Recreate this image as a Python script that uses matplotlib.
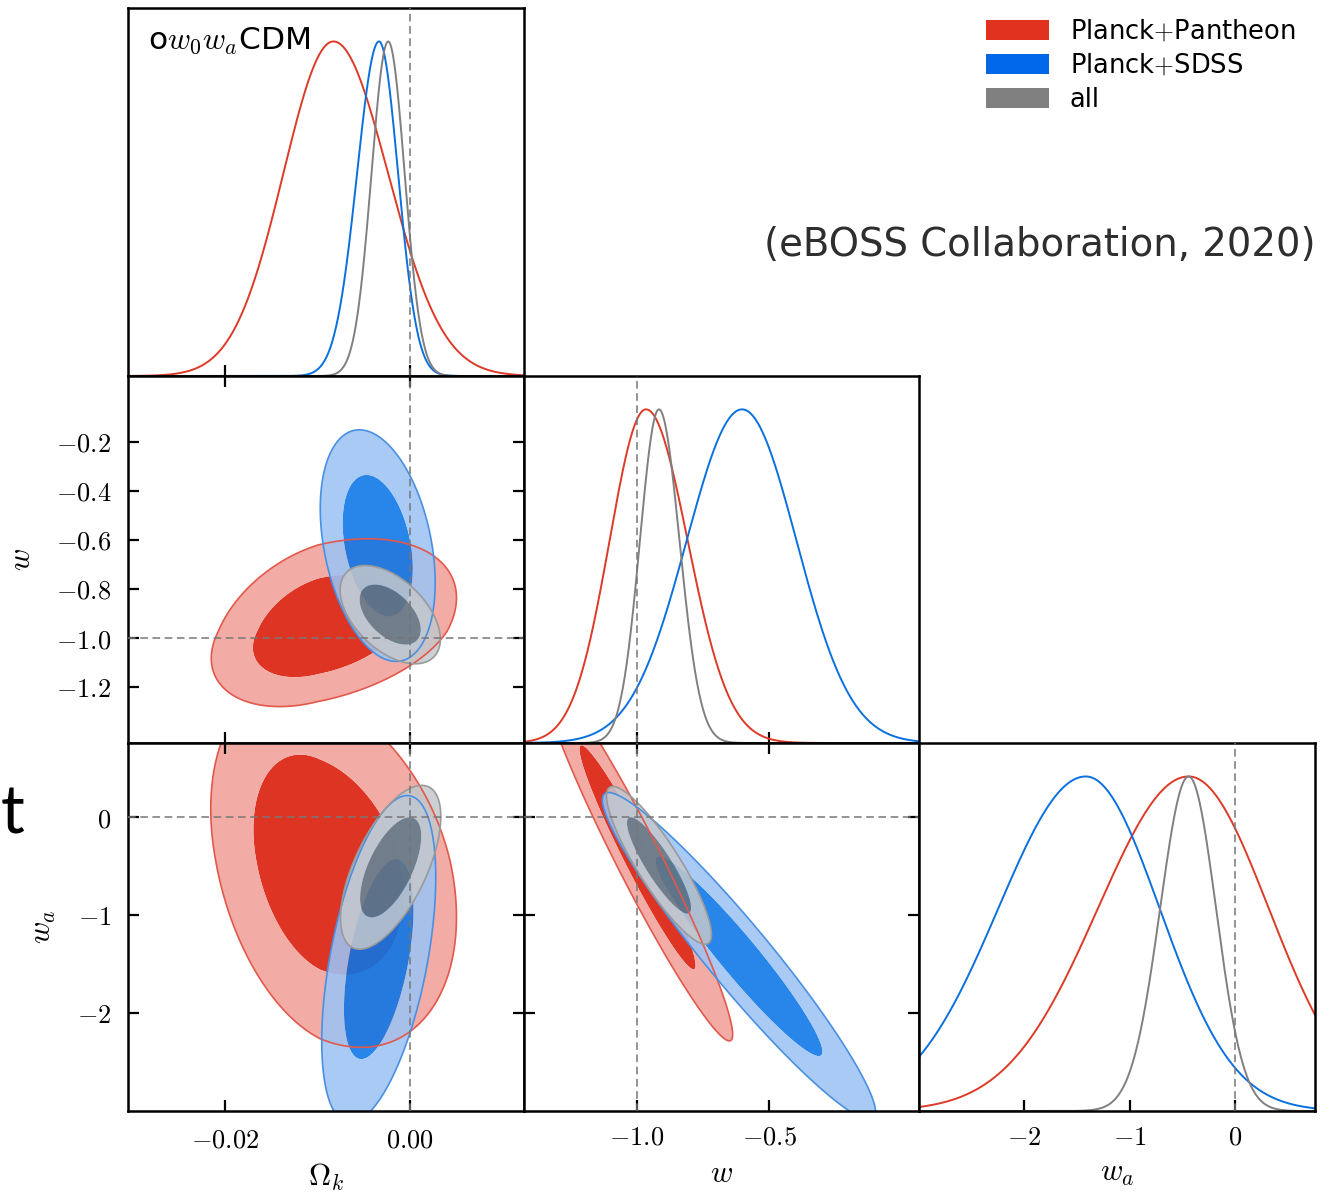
#!/usr/bin/python3
# triangle plot for the o w0 wa CDM fit: Omega_k, w, w_a

import numpy as np
import matplotlib
matplotlib.use('Agg')
from matplotlib import pyplot as plt
from matplotlib.patches import Patch

plt.rcParams['mathtext.fontset'] = 'cm'
plt.rcParams['font.family'] = ['DejaVu Sans']

##########################################
# data sets
labels = ['Planck$+$Pantheon', 'Planck$+$SDSS', 'all']
line_colors = ['#dd3a27', '#0a70e0', '#808080']
legend_colors = ['#e0321f', '#0068e8', '#808080']
inner_colors = ['#de3424', '#0a74e6', '#68747c']
outer_colors = ['#f2aca5', '#9cc3f4', '#c4c8cc']
edge_colors = ['#e2584c', '#4a90e2', '#9a9a9a']
fill_alpha = [1.0, 0.88, 0.85]

# 1D marginals: peak, width below peak, width above peak
ok_peak = [-0.0083, -0.00337, -0.00238]
ok_sig_lo = [0.0054, 0.00237, 0.0018]
ok_sig_hi = [0.0059, 0.00206, 0.00178]

w_peak = [-0.966, -0.602, -0.917]
w_sig_lo = [0.138, 0.21, 0.072]
w_sig_hi = [0.158, 0.206, 0.078]

wa_peak = [-0.44, -1.416, -0.44]
wa_sig_lo = [0.86, 0.83, 0.27]
wa_sig_hi = [0.76, 0.70, 0.26]

# 2D posteriors: centre, widths (x below, x above, y below, y above), correlation
okw_centre = [(-0.00995, -0.9717), (-0.00351, -0.6234), (-0.00216, -0.9048)]
okw_sig = [(0.00465, 0.00602, 0.1239, 0.1514), (0.0025, 0.0025, 0.19, 0.19),
           (0.00218, 0.00218, 0.0806, 0.0806)]
okw_rho = [0.36, -0.32, -0.5]

okwa_centre = [(-0.00973, -0.449), (-0.0034, -1.449), (-0.00211, -0.51)]
okwa_sig = [(0.00476, 0.00593, 0.765, 0.719), (0.00248, 0.00248, 0.673, 0.673),
            (0.00218, 0.00218, 0.337, 0.337)]
okwa_rho = [-0.3, 0.5, 0.62]

wwa_centre = [(-0.998, -0.408), (-0.6136, -1.418), (-0.9167, -0.49)]
wwa_sig = [(0.145, 0.145, 0.755, 0.755), (0.2083, 0.2083, 0.673, 0.673),
           (0.080, 0.080, 0.3245, 0.3245)]
wwa_rho = [-0.965, -0.955, -0.88]

ok_lim = (-0.0305, 0.0123)
w_lim = (-1.428, 0.068)
wa_lim = (-3.0, 0.76)

ok_ticks = [-0.02, 0.0]
ok_ticklabels = ['$-0.02$', '$0.00$']
w_xticks = [-1.0, -0.5]
w_xticklabels = ['$-1.0$', '$-0.5$']
w_yticks = [-0.2, -0.4, -0.6, -0.8, -1.0, -1.2]
w_yticklabels = ['$-0.2$', '$-0.4$', '$-0.6$', '$-0.8$', '$-1.0$', '$-1.2$']
wa_ticks = [-2, -1, 0]
wa_ticklabels = ['$-2$', '$-1$', '$0$']

# 68% and 95% levels of a 2D gaussian
levels = [0.0, 2.30, 6.17]

W, H = 1333, 1195
TICK = 19
LABEL = 22


##########################################
def box(x0, y0, x1, y1):
    return [x0 / W, 1 - y1 / H, (x1 - x0) / W, (y1 - y0) / H]


def split_gauss(x, mu, slo, shi):
    s = np.where(x < mu, slo, shi)
    return np.exp(-0.5 * ((x - mu) / s) ** 2)


def chi2(X, Y, centre, sig, rho):
    x0, y0 = centre
    sxl, sxh, syl, syh = sig
    u = np.where(X < x0, (X - x0) / sxl, (X - x0) / sxh)
    v = np.where(Y < y0, (Y - y0) / syl, (Y - y0) / syh)
    return (u * u - 2 * rho * u * v + v * v) / (1 - rho * rho)


def style(ax, two_d=True):
    for s in ax.spines.values():
        s.set_linewidth(1.8)
    ax.tick_params(direction='in', length=8, width=1.6, labelsize=TICK,
                   top=two_d, right=two_d, left=two_d, bottom=True,
                   labelbottom=False, labelleft=False, pad=10)


def plot1d(ax, lim, peak, slo, shi):
    x = np.linspace(lim[0], lim[1], 800)
    for i in range(len(labels)):
        ax.plot(x, split_gauss(x, peak[i], slo[i], shi[i]), color=line_colors[i], lw=1.4)
    ax.set_xlim(lim)
    ax.set_ylim(0, 1.1)
    ax.set_yticks([])
    style(ax, two_d=False)


def plot2d(ax, xlim, ylim, centre, sig, rho):
    X, Y = np.meshgrid(np.linspace(xlim[0], xlim[1], 700), np.linspace(ylim[0], ylim[1], 700))
    for i in range(len(labels)):
        q = chi2(X, Y, centre[i], sig[i], rho[i])
        ax.contourf(X, Y, q, levels=levels, colors=[inner_colors[i], outer_colors[i]],
                    alpha=fill_alpha[i], antialiased=True)
        ax.contour(X, Y, q, levels=[levels[2]], colors=[edge_colors[i]], linewidths=1.2)
    ax.set_xlim(xlim)
    ax.set_ylim(ylim)
    style(ax)


def ref_lines(ax, x=None, y=None):
    if x is not None:
        ax.axvline(x, color='#777777', lw=1.1, ls=(0, (5, 3)), zorder=5)
    if y is not None:
        ax.axhline(y, color='#777777', lw=1.1, ls=(0, (5, 3)), zorder=5)


##########################################
def main():
    fig = plt.figure(figsize=(W / 100, H / 100), dpi=100)

    ax_ok = fig.add_axes(box(128, 8, 524, 376))
    ax_okw = fig.add_axes(box(128, 376, 524, 743))
    ax_okwa = fig.add_axes(box(128, 743, 524, 1111))
    ax_w = fig.add_axes(box(524, 376, 919, 743))
    ax_wwa = fig.add_axes(box(524, 743, 919, 1111))
    ax_wa = fig.add_axes(box(919, 743, 1315, 1111))

    # diagonal
    plot1d(ax_ok, ok_lim, ok_peak, ok_sig_lo, ok_sig_hi)
    plot1d(ax_w, w_lim, w_peak, w_sig_lo, w_sig_hi)
    plot1d(ax_wa, wa_lim, wa_peak, wa_sig_lo, wa_sig_hi)
    ref_lines(ax_ok, x=0.0)
    ref_lines(ax_w, x=-1.0)
    ref_lines(ax_wa, x=0.0)

    # off-diagonal
    plot2d(ax_okw, ok_lim, w_lim, okw_centre, okw_sig, okw_rho)
    plot2d(ax_okwa, ok_lim, wa_lim, okwa_centre, okwa_sig, okwa_rho)
    plot2d(ax_wwa, w_lim, wa_lim, wwa_centre, wwa_sig, wwa_rho)
    ref_lines(ax_okw, x=0.0, y=-1.0)
    ref_lines(ax_okwa, x=0.0, y=0.0)
    ref_lines(ax_wwa, x=-1.0, y=0.0)

    # ticks
    for ax in (ax_ok, ax_okw, ax_okwa):
        ax.set_xticks(ok_ticks)
        ax.set_xticklabels(ok_ticklabels)
    for ax in (ax_w, ax_wwa):
        ax.set_xticks(w_xticks)
        ax.set_xticklabels(w_xticklabels)
    ax_wa.set_xticks(wa_ticks)
    ax_wa.set_xticklabels(wa_ticklabels)
    ax_okw.set_yticks(w_yticks)
    ax_okw.set_yticklabels(w_yticklabels)
    for ax in (ax_okwa, ax_wwa):
        ax.set_yticks(wa_ticks)
        ax.set_yticklabels(wa_ticklabels)

    for ax in (ax_okwa, ax_wwa, ax_wa):
        ax.tick_params(labelbottom=True)
    for ax in (ax_okw, ax_okwa):
        ax.tick_params(labelleft=True, pad=12)

    ax_okwa.set_xlabel(r'$\Omega_k$', fontsize=LABEL, labelpad=6)
    ax_wwa.set_xlabel(r'$w$', fontsize=LABEL, labelpad=6)
    ax_wa.set_xlabel(r'$w_a$', fontsize=LABEL, labelpad=6)
    ax_okw.set_ylabel(r'$w$', fontsize=LABEL, labelpad=14)
    ax_okwa.set_ylabel(r'$w_a$', fontsize=LABEL, labelpad=14)

    ax_ok.text(0.05, 0.889, r'o$w_0w_a$CDM', transform=ax_ok.transAxes,
               fontsize=22.5, ha='left', va='baseline')

    handles = [Patch(facecolor=c, edgecolor='none') for c in legend_colors]
    fig.legend(handles, labels, loc='upper left', bbox_to_anchor=(986 / W, 1 - 19 / H),
               frameon=False, fontsize=18.5, handlelength=2.45, handleheight=0.85,
               handletextpad=0.8, labelspacing=0.31, borderpad=0, borderaxespad=0)

    fig.text(764 / W, 1 - 256 / H, '(eBOSS Collaboration, 2020)', fontsize=27.8,
             family=['DejaVu Sans'], color='#2e2e2e', ha='left', va='baseline')
    fig.text(0.5 / W, 1 - 834 / H, 't', fontsize=48, family=['Lato', 'DejaVu Sans'],
             color='black', ha='left', va='baseline')

    fig.savefig('out.png', dpi=100)
    return


if __name__ == "__main__":
    main()
